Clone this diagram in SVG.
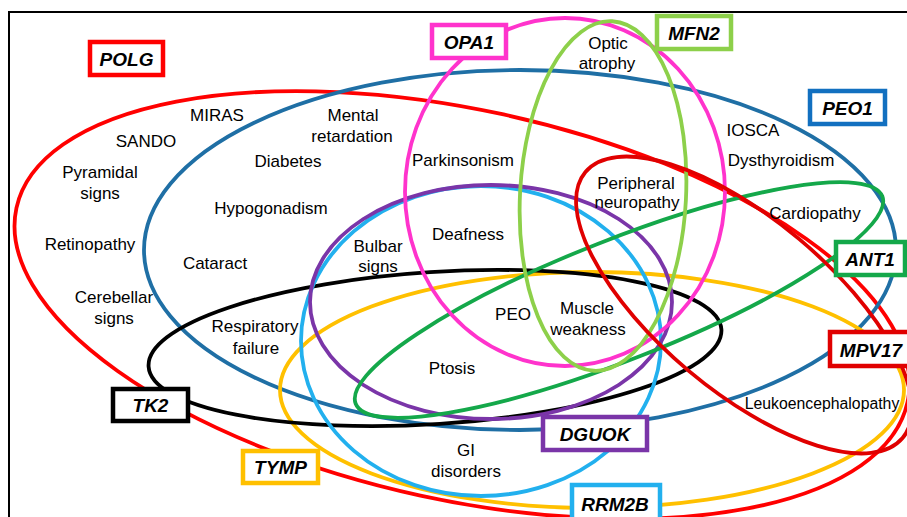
<svg xmlns="http://www.w3.org/2000/svg" width="907" height="517" viewBox="0 0 907 517">
<style>
.set{fill:none;stroke-width:3.8}
.box{fill:#fff;stroke-width:4.5}
.gene{font-family:"Liberation Sans",Arial,sans-serif;font-weight:bold;font-style:italic;font-size:19px;text-anchor:middle;fill:#000}
.sym{font-family:"Liberation Sans",Arial,sans-serif;font-size:17px;text-anchor:middle;fill:#000}
</style>
<rect x="0" y="0" width="907" height="517" fill="#fff"/>
<rect x="9" y="12" width="910" height="520" fill="#fff" stroke="#000" stroke-width="2"/>
<g id="connectors">
  <ellipse id="set-POLG" class="set" stroke="#ff0000" cx="462" cy="305" rx="456" ry="195" transform="rotate(12.3 462 305)"/>
  <ellipse id="set-PEO1" class="set" stroke="#1f6fa5" cx="520" cy="250" rx="376" ry="180"/>
  <ellipse id="set-TYMP" class="set" stroke="#ffc000" cx="592" cy="390" rx="312" ry="118"/>
  <ellipse id="set-TK2" class="set" stroke="#000000" cx="435" cy="348" rx="287" ry="76" transform="rotate(-3.7 435 348)"/>
  <ellipse id="set-RRM2B" class="set" stroke="#22b0ee" cx="481" cy="341" rx="180" ry="155"/>
  <ellipse id="set-DGUOK" class="set" stroke="#7a35a8" cx="491" cy="302" rx="181" ry="117"/>
  <ellipse id="set-ANT1" class="set" stroke="#14a84a" cx="619" cy="300" rx="283" ry="60" transform="rotate(-21.5 619 300)"/>
  <ellipse id="set-OPA1" class="set" stroke="#ff33cc" cx="565" cy="192" rx="160" ry="174"/>
  <ellipse id="set-MFN2" class="set" stroke="#8dd04a" cx="603" cy="196" rx="83" ry="175" transform="rotate(3 603 196)"/>
  <ellipse id="set-MPV17" class="set" stroke="#e00000" cx="744" cy="305" rx="207" ry="86" transform="rotate(40 744 305)"/>
</g>
<g id="symptoms">
  <text class="sym" x="217" y="121">MIRAS</text>
  <text class="sym" x="146" y="147">SANDO</text>
  <text class="sym" x="100" y="178">Pyramidal</text>
  <text class="sym" x="100" y="199">signs</text>
  <text class="sym" x="90" y="250">Retinopathy</text>
  <text class="sym" x="114" y="303">Cerebellar</text>
  <text class="sym" x="114" y="324">signs</text>
  <text class="sym" x="353" y="121">Mental</text>
  <text class="sym" x="352" y="142">retardation</text>
  <text class="sym" x="288" y="167">Diabetes</text>
  <text class="sym" x="271" y="214">Hypogonadism</text>
  <text class="sym" x="215" y="269">Cataract</text>
  <text class="sym" x="255" y="332">Respiratory</text>
  <text class="sym" x="256" y="354">failure</text>
  <text class="sym" x="378" y="252">Bulbar</text>
  <text class="sym" x="378" y="272">signs</text>
  <text class="sym" x="468" y="240">Deafness</text>
  <text class="sym" x="463" y="166">Parkinsonism</text>
  <text class="sym" x="608" y="49">Optic</text>
  <text class="sym" x="607" y="69">atrophy</text>
  <text class="sym" x="753" y="136">IOSCA</text>
  <text class="sym" x="781" y="166">Dysthyroidism</text>
  <text class="sym" x="636" y="189">Peripheral</text>
  <text class="sym" x="637" y="208">neuropathy</text>
  <text class="sym" x="815" y="219">Cardiopathy</text>
  <text class="sym" x="513" y="320">PEO</text>
  <text class="sym" x="587" y="314">Muscle</text>
  <text class="sym" x="588" y="335">weakness</text>
  <text class="sym" x="452" y="374">Ptosis</text>
  <text class="sym" x="466" y="456">GI</text>
  <text class="sym" x="466" y="477">disorders</text>
  <text class="sym" x="822" y="409" style="font-size:15.8px">Leukoencephalopathy</text>
</g>
<g id="node-POLG"><rect class="box" stroke="#ff0000" x="90" y="42" width="73" height="33"/><text class="gene" x="126.5" y="65.5">POLG</text></g>
<g id="node-OPA1"><rect class="box" stroke="#ff33cc" x="432" y="25" width="74" height="33"/><text class="gene" x="469" y="48.5">OPA1</text></g>
<g id="node-MFN2"><rect class="box" stroke="#8dd04a" x="657" y="16" width="74" height="33"/><text class="gene" x="694" y="39.5">MFN2</text></g>
<g id="node-PEO1"><rect class="box" stroke="#1270c0" x="810" y="91" width="75" height="33"/><text class="gene" x="847.5" y="114.5">PEO1</text></g>
<g id="node-ANT1"><rect class="box" stroke="#14a84a" x="836" y="242" width="69" height="33"/><text class="gene" x="870" y="265.5">ANT1</text></g>
<g id="node-MPV17"><rect class="box" stroke="#e00000" x="830" y="332" width="80" height="34"/><text class="gene" x="871" y="356.5">MPV17</text></g>
<g id="node-TK2"><rect class="box" stroke="#000000" x="113" y="389" width="75" height="32"/><text class="gene" x="150.5" y="412">TK2</text></g>
<g id="node-TYMP"><rect class="box" stroke="#ffc000" x="243" y="451" width="75" height="32"/><text class="gene" x="280.5" y="474">TYMP</text></g>
<g id="node-DGUOK"><rect class="box" stroke="#7a35a8" x="543" y="417" width="104" height="33"/><text class="gene" x="595" y="440.5">DGUOK</text></g>
<g id="node-RRM2B"><rect class="box" stroke="#22b0ee" x="572" y="485" width="88" height="40"/><text class="gene" x="615" y="511">RRM2B</text></g>
</svg>
